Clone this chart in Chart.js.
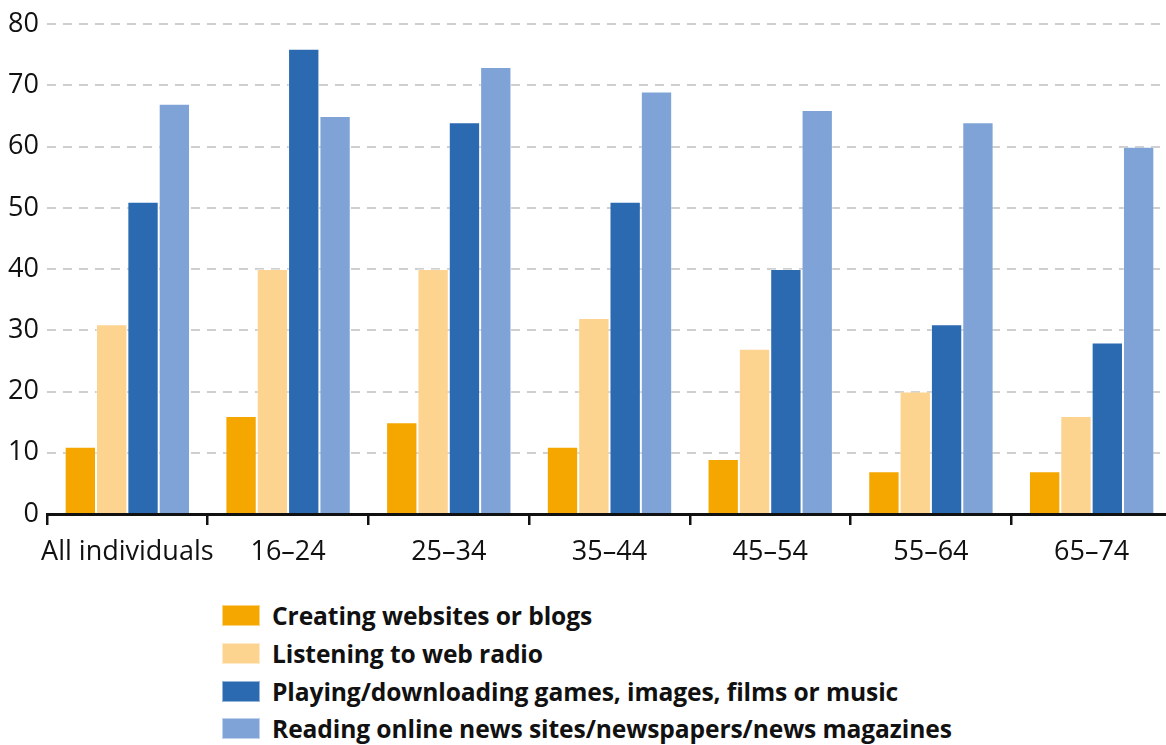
<!DOCTYPE html>
<html>
<head>
<meta charset="utf-8">
<script src="https://cdn.jsdelivr.net/npm/chart.js@4/dist/chart.umd.min.js"></script>
<style>
  html, body { margin: 0; padding: 0; background: #fff; overflow: hidden; }
  body { width: 1166px; height: 745px; position: relative; font-family: "Open Sans", sans-serif; }
  #wrap { position: absolute; left: 0; top: 0; width: 1172px; height: 574px; }
  #legend { position: absolute; left: 222px; top: 597px; }
  .item { display: flex; align-items: center; height: 37.7px; }
  .sw { width: 38px; height: 21px; margin-right: 12px; box-sizing: border-box; border: 1px solid rgba(255,255,255,0.5); }
  .lbl { font-weight: 700; font-size: 24.6px; color: #111; letter-spacing: -0.1px; }
</style>
</head>
<body>
<div id="wrap"><canvas id="c"></canvas></div>
<div id="legend"></div>
<script>
// Age groups along the x axis
const categories = ['All individuals', '16–24', '25–34', '35–44', '45–54', '55–64', '65–74'];

// Share of individuals (%) per activity
const creatingWebsites = [11, 16, 15, 11, 9, 7, 7];
const webRadio         = [31, 40, 40, 32, 27, 20, 16];
const gamesFilmsMusic  = [51, 76, 64, 51, 40, 31, 28];
const onlineNews       = [67, 65, 73, 69, 66, 64, 60];

const seriesNames = [
  'Creating websites or blogs',
  'Listening to web radio',
  'Playing/downloading games, images, films or music',
  'Reading online news sites/newspapers/news magazines'
];
const seriesColors = ['#F5A700', '#FDD390', '#2B69B0', '#7FA3D6'];

// Y axis range and step
const yMin = 0, yMax = 80, yStep = 10;

const seriesValues = [creatingWebsites, webRadio, gamesFilmsMusic, onlineNews];

const chart = new Chart(document.getElementById('c'), {
  type: 'bar',
  data: {
    labels: categories,
    datasets: seriesValues.map((vals, i) => ({
      label: seriesNames[i],
      data: vals,
      backgroundColor: seriesColors[i],
      borderColor: 'rgba(255,255,255,0.35)',
      borderWidth: 1,
      categoryPercentage: 0.78,
      barPercentage: 1.0
    }))
  },
  options: {
    responsive: true,
    maintainAspectRatio: false,
    animation: false,
    layout: { padding: { top: 22, left: 0, right: 0, bottom: 0 } },
    plugins: { legend: { display: false }, tooltip: { enabled: false } },
    scales: {
      x: {
        afterFit: s => { s.height = 60; },
        border: { display: true, color: '#111', width: 3 },
        grid: {
          offset: true,
          drawOnChartArea: false,
          drawTicks: true,
          tickLength: 11,
          color: '#111',
          lineWidth: 2.5
        },
        ticks: {
          color: '#111',
          padding: 11,
          maxRotation: 0,
          minRotation: 0,
          autoSkip: false,
          font: { family: 'Open Sans', size: 27 }
        }
      },
      y: {
        min: yMin, max: yMax,
        afterFit: s => { s.width = 47; },
        border: { display: false, dash: [9, 7] },
        grid: { color: '#cfcfcf', lineWidth: 2, drawTicks: false },
        ticks: {
          stepSize: yStep,
          color: '#111',
          padding: 8,
          font: { family: 'Open Sans', size: 27 }
        }
      }
    }
  }
});

// Legend rows built from the chart's own datasets
const legend = document.getElementById('legend');
chart.data.datasets.forEach(ds => {
  const row = document.createElement('div');
  row.className = 'item';
  const sw = document.createElement('span');
  sw.className = 'sw';
  sw.style.background = ds.backgroundColor;
  const lbl = document.createElement('span');
  lbl.className = 'lbl';
  lbl.textContent = ds.label;
  row.appendChild(sw);
  row.appendChild(lbl);
  legend.appendChild(row);
});
</script>
</body>
</html>
